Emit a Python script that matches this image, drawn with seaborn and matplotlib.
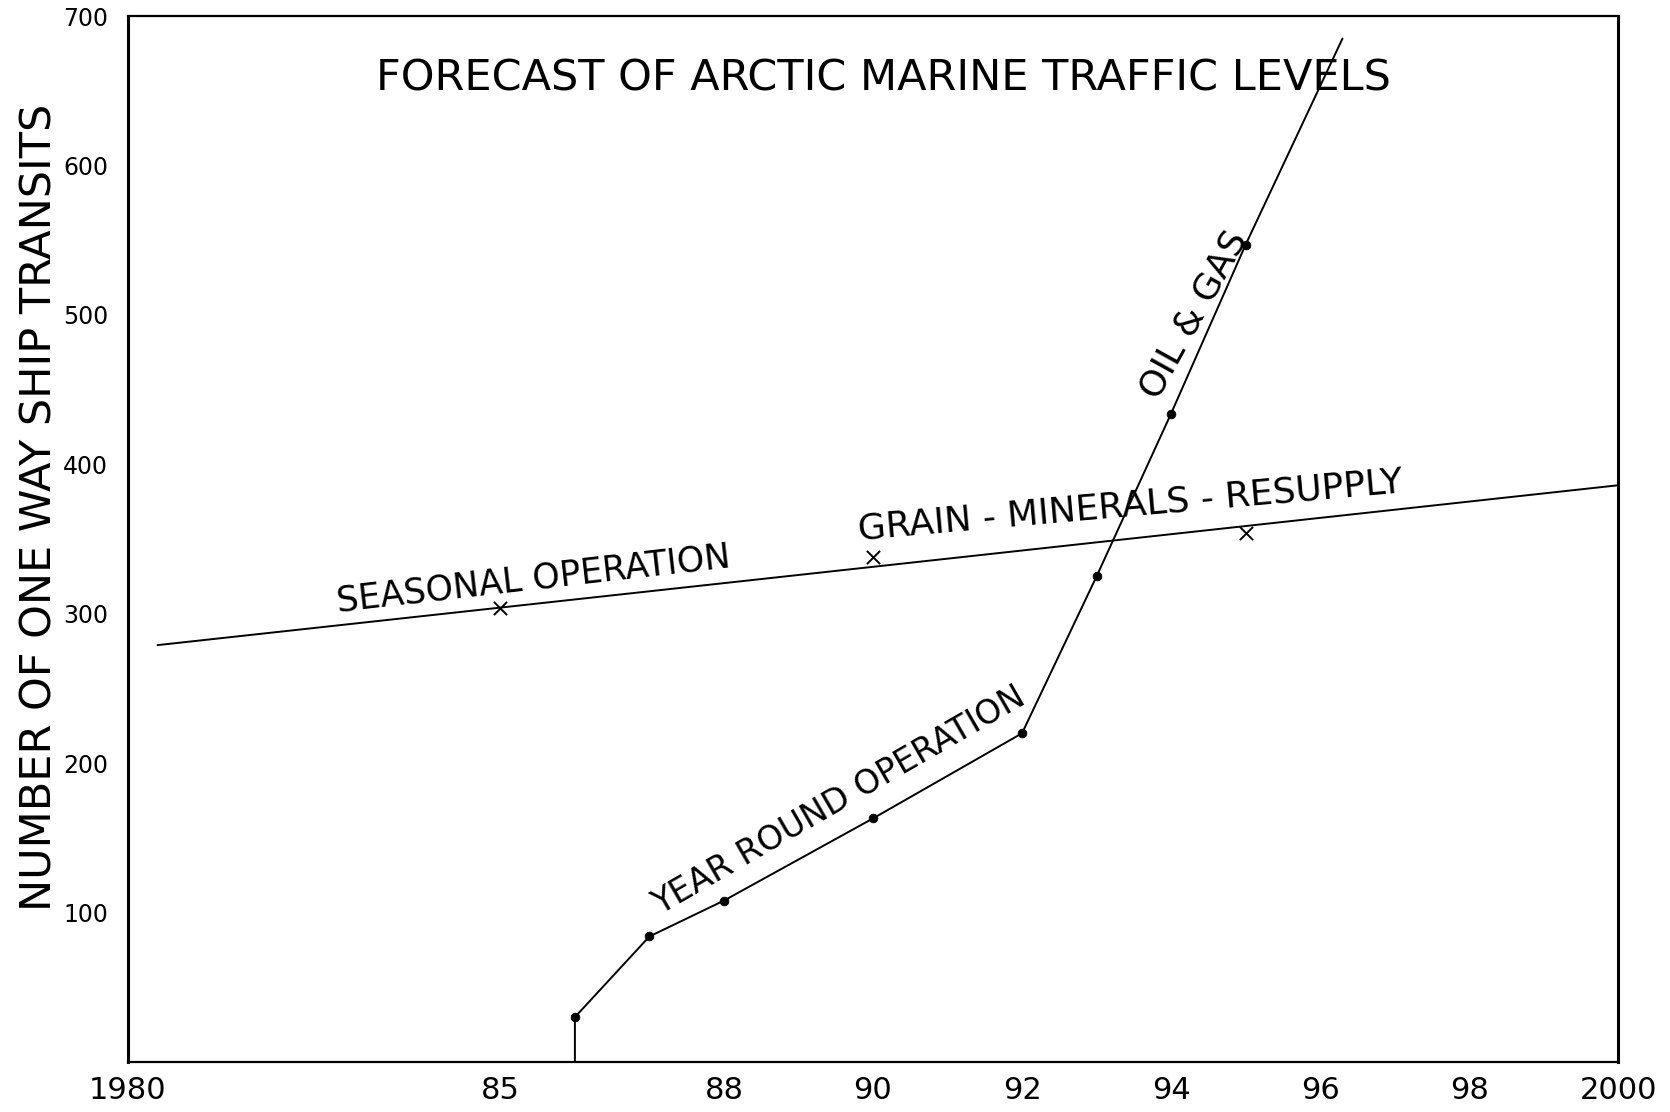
import matplotlib
matplotlib.use("Agg")
import matplotlib.pyplot as plt
import seaborn as sns
import pandas as pd

# ---- data ----
year_round_x = [1986, 1986, 1987, 1988, 1990, 1992, 1993, 1994, 1995, 1996.3]
year_round_y = [0, 30, 84, 108, 163, 220, 325, 434, 547, 685]
dot_x = [1986, 1987, 1988, 1990, 1992, 1993, 1994, 1995]
dot_y = [30, 84, 108, 163, 220, 325, 434, 547]

seasonal_line_x = [1980.4, 2000]
seasonal_line_y = [279, 386]
seasonal_pts_x = [1985, 1990, 1995]
seasonal_pts_y = [304, 338, 354]

x_ticks = [1980, 1985, 1988, 1990, 1992, 1994, 1996, 1998, 2000]
x_tick_labels = ["1980", "85", "88", "90", "92", "94", "96", "98", "2000"]
y_ticks = [100, 200, 300, 400, 500, 600, 700]
y_tick_labels = ["100", "200", "300", "400", "500", "600", "700"]

title = "FORECAST OF ARCTIC MARINE TRAFFIC LEVELS"
y_label = "NUMBER OF ONE WAY SHIP TRANSITS"

# ---- plot ----
sns.set_theme(style="white")
plt.rcParams["font.family"] = ["DejaVu Sans"]
plt.rcParams["text.color"] = "black"
plt.rcParams["axes.labelcolor"] = "black"
plt.rcParams["xtick.color"] = "black"
plt.rcParams["ytick.color"] = "black"

fig = plt.figure(figsize=(16.7, 11.12), dpi=100)
ax = fig.add_axes([0.0765, 0.045, 0.8925, 0.9405])

df_yr = pd.DataFrame({"x": year_round_x, "y": year_round_y})
df_dots = pd.DataFrame({"x": dot_x, "y": dot_y})
df_sl = pd.DataFrame({"x": seasonal_line_x, "y": seasonal_line_y})
df_sp = pd.DataFrame({"x": seasonal_pts_x, "y": seasonal_pts_y})

sns.lineplot(data=df_yr, x="x", y="y", ax=ax, color="black", lw=1.4,
             estimator=None, sort=False)
sns.scatterplot(data=df_dots, x="x", y="y", ax=ax, color="black", s=40,
                edgecolor="black", zorder=3)
sns.lineplot(data=df_sl, x="x", y="y", ax=ax, color="black", lw=1.4,
             estimator=None, sort=False)
sns.scatterplot(data=df_sp, x="x", y="y", ax=ax, color="black", marker="x",
                s=90, linewidth=1.4, zorder=3)

ax.set_xlim(1980, 2000)
ax.set_ylim(0, 700)
ax.set_xticks(x_ticks)
ax.set_xticklabels(x_tick_labels, fontsize=22)
ax.set_yticks(y_ticks)
ax.set_yticklabels(y_tick_labels, fontsize=17)
ax.tick_params(axis="both", length=0)
ax.tick_params(axis="x", pad=10)
ax.tick_params(axis="y", pad=14)
ax.set_xlabel("")
ax.set_ylabel(y_label, fontsize=31)
ax.yaxis.set_label_coords(-0.045, 0.53)

for side in ["left", "right"]:
    ax.spines[side].set_linewidth(2.2)
for side in ["top", "bottom"]:
    ax.spines[side].set_linewidth(1.6)
for s in ax.spines.values():
    s.set_color("black")

ax.text(0.507, 0.94, title, transform=ax.transAxes, ha="center", va="center",
        fontsize=31)

ax.text(1985.45, 323, "SEASONAL OPERATION", fontsize=25, rotation=6.5,
        ha="center", va="center", rotation_mode="anchor")
ax.text(1993.45, 372, "GRAIN - MINERALS - RESUPPLY", fontsize=26, rotation=5,
        ha="center", va="center", rotation_mode="anchor")
ax.text(1989.55, 175, "YEAR ROUND OPERATION", fontsize=24, rotation=30,
        ha="center", va="center", rotation_mode="anchor")
ax.text(1994.3, 500, "OIL & GAS", fontsize=26, rotation=61,
        ha="center", va="center", rotation_mode="anchor")

fig.savefig("out.png", dpi=100, facecolor="white")
